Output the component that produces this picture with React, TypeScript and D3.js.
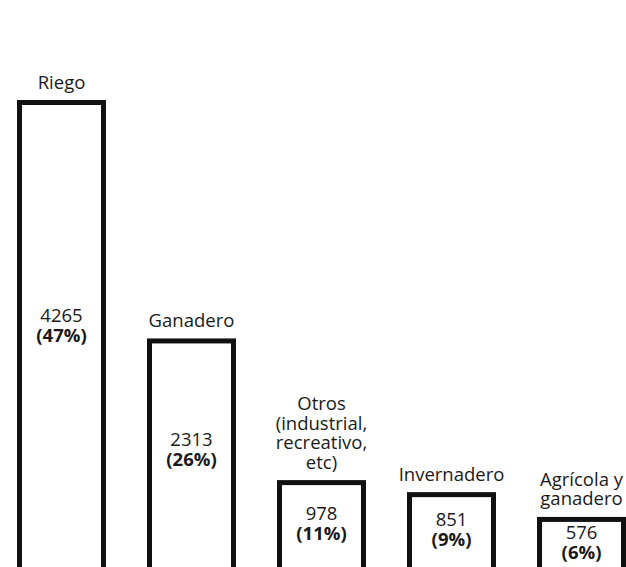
import React from "react";
import * as d3 from "d3";

const categories: string[][] = [
  ["Riego"],
  ["Ganadero"],
  ["Otros", "(industrial,", "recreativo,", "etc)"],
  ["Invernadero"],
  ["Agrícola y", "ganadero"],
];
const values: number[] = [4265, 2313, 978, 851, 576];
const percents: string[] = ["47%", "26%", "11%", "9%", "6%"];

const W = 626;
const H = 567;

export default function App() {
  const keys = categories.map((c) => c.join(" "));
  const x = d3
    .scaleBand<string>()
    .domain(keys)
    .range([19.5, 623.5])
    .paddingInner(0.354)
    .paddingOuter(0);
  // the drawn bars are not strictly proportional; a mild power scale fits them best
  const y = d3.scalePow().exponent(1.2).domain([0, 4265]).range([560.9, 102.5]);
  const font = "'Open Sans', 'Noto Sans', sans-serif";
  const fs = 18.5;
  const lh = 19.5;
  const vlh = 19.5;

  return (
    <svg
      width={W}
      height={H}
      style={{ position: "absolute", left: 0, top: 0, background: "#fff" }}
      fontFamily={font}
    >
      <rect x={0} y={0} width={W} height={H} fill="#fff" />
      {keys.map((k, i) => {
        const x0 = x(k)!;
        const bw = x.bandwidth();
        const top = y(values[i]);
        const cx = x0 + bw / 2;
        const lines = categories[i];
        const labelBase = top - 14;
        let center = top + (H - top) * 0.48;
        center = Math.min(center, H - 22);
        const b1 = center - 3;
        return (
          <g key={k}>
            <rect
              x={x0}
              y={top}
              width={bw}
              height={H + 20 - top}
              fill="#fff"
              stroke="#111"
              strokeWidth={5}
            />
            {lines.map((ln, j) => (
              <text
                key={j}
                x={cx}
                y={labelBase - (lines.length - 1 - j) * lh}
                textAnchor="middle"
                fontSize={fs}
                fill="#1a1a1a"
              >
                {ln}
              </text>
            ))}
            <text x={cx} y={b1} textAnchor="middle" fontSize={fs} fill="#1a1a1a">
              {values[i]}
            </text>
            <text
              x={cx}
              y={b1 + vlh}
              textAnchor="middle"
              fontSize={fs}
              fontWeight="bold"
              fill="#1a1a1a"
            >
              ({percents[i]})
            </text>
          </g>
        );
      })}
    </svg>
  );
}
